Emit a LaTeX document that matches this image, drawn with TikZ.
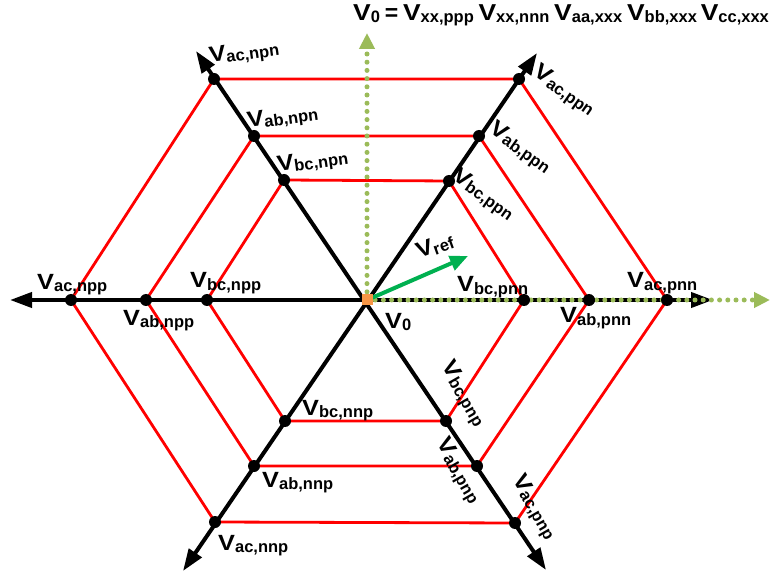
\documentclass[tikz,border=0pt]{standalone}
\usepackage{fontspec}
\setmainfont{Liberation Sans}
\usetikzlibrary{arrows.meta}
\definecolor{dotgreen}{HTML}{9BBB59}
\definecolor{refgreen}{HTML}{00B050}
\definecolor{orng}{HTML}{F79646}
\newcommand{\VV}[1]{{\fontsize{22}{22}\selectfont\scalebox{1.15}[1]{V}}\raisebox{-2pt}{\fontsize{16.5}{16.5}\selectfont #1}}
\newcommand{\TV}[1]{{\fontsize{23}{23}\selectfont\scalebox{1.15}[1]{V}}\raisebox{-2pt}{\fontsize{16.5}{16.5}\selectfont #1}}
\begin{document}
\begin{tikzpicture}[x=1pt,y=-1pt,
  axis/.style={line width=4pt,black,{Triangle[length=22pt,width=15pt]}-{Triangle[length=22pt,width=15pt]}},
  hexa/.style={line width=2.8pt,red,line join=miter},
  gdot/.style={line width=5pt,dotgreen,line cap=round,dash pattern=on 0pt off 8.2pt,-{Triangle[length=16pt,width=15pt]}},
  refarrow/.style={line width=4pt,refgreen,-{Triangle[length=18pt,width=15pt]}},
  vdot/.style={black},
  lab/.style={inner sep=0pt,font=\bfseries}]
\useasboundingbox (0,0) rectangle (771,577);
\fill[white] (0,0) rectangle (771,577);
% coordinates
\coordinate (O) at (367,300);
\coordinate (L) at (10,300);
\coordinate (R) at (713,300);
\coordinate (TL) at (196,51);
\coordinate (BR) at (546,570);
\coordinate (TR) at (537,53);
\coordinate (BL) at (183,571);
\coordinate (GT) at (367,33);
\coordinate (GR) at (770,300);
\coordinate (Vr) at (468,256);
% hexagon vertices
\coordinate (o1) at (71,300);  \coordinate (o2) at (214,79);  \coordinate (o3) at (519,79);
\coordinate (o4) at (667,300); \coordinate (o5) at (515,523); \coordinate (o6) at (215,522);
\coordinate (m1) at (146,300); \coordinate (m2) at (254,136); \coordinate (m3) at (479,136);
\coordinate (m4) at (589,300); \coordinate (m5) at (477,466); \coordinate (m6) at (254,466);
\coordinate (i1) at (207,300); \coordinate (i2) at (284,180); \coordinate (i3) at (449,181);
\coordinate (i4) at (524,300); \coordinate (i5) at (446,421); \coordinate (i6) at (285,421);
% hexagons
\draw[hexa] (o1)--(o2)--(o3)--(o4)--(o5)--(o6)--cycle;
\draw[hexa] (m1)--(m2)--(m3)--(m4)--(m5)--(m6)--cycle;
\draw[hexa] (i1)--(i2)--(i3)--(i4)--(i5)--(i6)--cycle;
% axes
\draw[axis] (L) -- (R);
\draw[axis] (TL) -- (BR);
\draw[axis] (TR) -- (BL);
% green dotted axes
\draw[gdot] (O) -- (GT);
\draw[gdot] (O) -- (GR);
% dots
\foreach \p in {o1,o2,o3,o4,o5,o6,m1,m2,m3,m4,m5,m6,i1,i2,i3,i4,i5,i6}
  \fill[vdot] (\p) circle (6pt);
% vref
\draw[refarrow] (O) -- (Vr);
\node[fill=orng,minimum size=11pt,inner sep=0pt] (sq) at (O) {};
% labels
\node[lab,anchor=base west] (t) at (353,21) {\TV{0}\hspace{2pt} {\fontsize{23}{23}\selectfont =}\hspace{2pt} \TV{xx,ppp}\hspace{2pt} \TV{xx,nnn}\hspace{2pt} \TV{aa,xxx}\hspace{2pt} \TV{bb,xxx}\hspace{1pt} \TV{cc,xxx}};
\node[lab,anchor=base west] (acnpp) at (37,290) {\VV{ac,npp}};
\node[lab,anchor=base west] (abnpp) at (123,325) {\VV{ab,npp}};
\node[lab,anchor=base west] (bcnpp) at (190,288) {\VV{bc,npp}};
\node[lab,anchor=base west] (acpnn) at (627,288) {\VV{ac,pnn}};
\node[lab,anchor=base west] (abpnn) at (560,323) {\VV{ab,pnn}};
\node[lab,anchor=base west] (bcpnn) at (457,292) {\VV{bc,pnn}};
\node[lab,anchor=base west] (v0) at (385,328) {\VV{0}};
\node[lab,anchor=base west] (bcnnp) at (302,415) {\VV{bc,nnp}};
\node[lab,anchor=base west] (abnnp) at (262,487) {\VV{ab,nnp}};
\node[lab,anchor=base west] (acnnp) at (218,550) {\VV{ac,nnp}};
\node[lab,anchor=base west,rotate=8] (acnpn) at (210,63) {\VV{ac,npn}};
\node[lab,anchor=base west,rotate=8] (abnpn) at (248,128) {\VV{ab,npn}};
\node[lab,anchor=base west,rotate=8] (bcnpn) at (278,172) {\VV{bc,npn}};
\node[lab,anchor=base west,rotate=20] (vref) at (419,259) {\VV{ref}};
\node[lab,rotate=-35] (acppn) at (564,91) {\VV{ac,ppn}};
\node[lab,rotate=-35] (abppn) at (520,148) {\VV{ab,ppn}};
\node[lab,rotate=-35] (bcppn) at (483,195) {\VV{bc,ppn}};
\node[lab,rotate=-60] (bcpnp) at (463,394) {\VV{bc,pnp}};
\node[lab,rotate=-60] (abpnp) at (458,471) {\VV{ab,pnp}};
\node[lab,rotate=-60] (acpnp) at (534,507) {\VV{ac,pnp}};
\end{tikzpicture}
\end{document}
